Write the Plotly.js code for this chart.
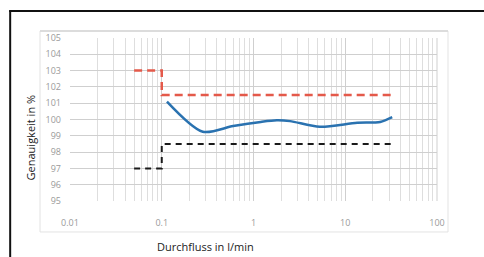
<!DOCTYPE html>
<html>
<head>
<meta charset="utf-8">
<script src="https://cdn.plot.ly/plotly-3.0.1.min.js"></script>
<style>html,body{margin:0;padding:0;background:#fff;}#chart{width:484px;height:257px;}</style>
</head>
<body>
<div id="chart"></div>
<script>
// Upper tolerance limit (red dashed)
var upperX = [0.05, 0.1, 0.1, 35];
var upperY = [103, 103, 101.5, 101.5];
// Lower tolerance limit (black dashed)
var lowerX = [0.05, 0.1, 0.1, 35];
var lowerY = [97, 97, 98.5, 98.5];
// Measured accuracy curve (blue)
var accX = [0.114, 0.28, 0.6, 1.2, 1.8, 2.5, 5.3, 13.5, 24, 32.5];
var accY = [101.1, 99.25, 99.6, 99.85, 99.95, 99.9, 99.55, 99.8, 99.85, 100.15];
// Axis tick labels
var xTickVals = [0.01, 0.1, 1, 10, 100];
var xTickText = ["0.01", "0.1", "1", "10", "100"];
var yTickVals = [95, 96, 97, 98, 99, 100, 101, 102, 103, 104, 105];
var xTitle = 'Durchfluss in l/min';
var yTitle = 'Genauigkeit in %';

var traces = [
  {x: upperX, y: upperY, mode: 'lines', line: {color: '#e4594a', width: 2.5, dash: '8px,5px'}, hoverinfo: 'skip'},
  {x: lowerX, y: lowerY, mode: 'lines', line: {color: '#1a1a1a', width: 2, dash: '6px,5px'}, hoverinfo: 'skip'},
  {x: accX, y: accY, mode: 'lines', line: {color: '#2a72b0', width: 2.5, shape: 'spline', smoothing: 0.8}, hoverinfo: 'skip'}
];

var layout = {
  width: 484, height: 257,
  margin: {l: 70, r: 47, t: 38, b: 56},
  paper_bgcolor: '#ffffff', plot_bgcolor: '#ffffff',
  showlegend: false,
  font: {family: 'Open Sans, sans-serif'},
  xaxis: {
    type: 'log', range: [-2, 2],
    tickvals: xTickVals, ticktext: xTickText,
    tickfont: {size: 9, color: '#9a9a9a'},
    showgrid: true, gridcolor: '#cfcfcf', gridwidth: 1,
    minor: {showgrid: true, gridcolor: '#dedede', dtick: 'D1', ticks: ''},
    showline: false, zeroline: false, ticks: '',
    ticklabelstandoff: 15
  },
  yaxis: {
    range: [95, 105],
    tickvals: yTickVals,
    tickfont: {size: 9, color: '#9a9a9a'},
    showgrid: true, gridcolor: '#cfcfcf', gridwidth: 1,
    showline: false, zeroline: false, ticks: '',
    ticklabelstandoff: 8
  },
  annotations: [
    {text: xTitle, xref: 'paper', yref: 'paper', x: 0.368, y: -0.282, showarrow: false,
     xanchor: 'center', yanchor: 'middle', font: {size: 11, color: '#222'}},
    {text: yTitle, xref: 'paper', yref: 'paper', x: -0.109, y: 0.39, showarrow: false, textangle: -90,
     xanchor: 'center', yanchor: 'middle', font: {size: 11, color: '#222'}}
  ],
  shapes: [
    {type: 'rect', xref: 'paper', yref: 'paper', x0: -0.0817, x1: 1.03, y0: -0.19, y1: 1.043, line: {color: '#e3e3e3', width: 1}, layer: 'below'},
    {type: 'line', xref: 'paper', yref: 'paper', x0: -0.0817, x1: 1.03, y0: 1.043, y1: 1.043, line: {color: '#dcdcdc', width: 2}},
    {type: 'line', xref: 'paper', yref: 'paper', x0: 1, x1: 1, y0: 0, y1: 1, line: {color: '#cfcfcf', width: 1}},
    {type: 'line', xref: 'paper', yref: 'paper', x0: -0.163, x1: -0.163, y0: 1.166, y1: -0.4, line: {color: '#111', width: 2}},
    {type: 'line', xref: 'paper', yref: 'paper', x0: -0.166, x1: 1.2, y0: 1.166, y1: 1.166, line: {color: '#111', width: 2}}
  ]
};

Plotly.newPlot('chart', traces, layout, {staticPlot: true, displayModeBar: false});
</script>
</body>
</html>
